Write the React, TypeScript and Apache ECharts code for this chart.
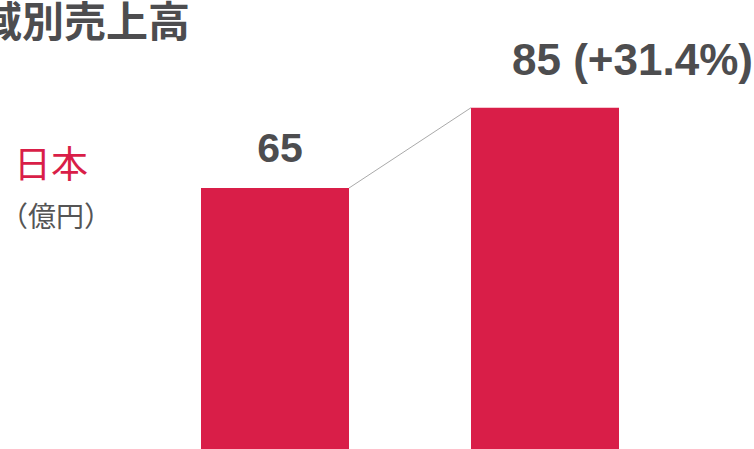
import React, { useEffect, useRef } from "react";
import * as echarts from "echarts";

const categories = ["前年", "当年"];
const values = [65, 85];
const growthLabel = "(+31.4%)";
const titleText = "地域別売上高";
const regionText = "日本";
const unitText = "（億円）";

const RED = "#d91e48";
const GRAY = "#4d4d4f";

export default function App() {
  const ref = useRef<HTMLDivElement>(null);
  useEffect(() => {
    if (!ref.current) return;
    const chart = echarts.init(ref.current, undefined, { renderer: "svg" });
    const barWidth = 148;
    chart.setOption({
      animation: false,
      backgroundColor: "#ffffff",
      grid: { left: 140, right: 74, top: 47.5, bottom: 0 },
      xAxis: {
        type: "category",
        data: categories,
        show: false,
      },
      yAxis: { type: "value", min: 0, max: 100, show: false },
      graphic: [
        {
          type: "text",
          right: 564,
          top: -3,
          style: {
            text: titleText,
            fontSize: 42,
            fontWeight: "bold",
            fontFamily: "'Noto Sans CJK JP', sans-serif",
            fill: GRAY,
          },
        },
        {
          type: "text",
          left: 14,
          top: 143,
          style: {
            text: regionText,
            fontSize: 37,
            fontFamily: "'Noto Sans CJK JP', sans-serif",
            fill: RED,
          },
        },
        {
          type: "text",
          left: 0,
          top: 201,
          style: {
            text: unitText,
            fontSize: 28,
            fontFamily: "'Noto Sans CJK JP', sans-serif",
            fill: "#555555",
          },
        },
      ],
      series: [
        {
          type: "bar",
          barWidth,
          data: [
            {
              value: values[0],
              label: {
                show: true,
                position: "top",
                distance: 20,
                offset: [5, 0],
                formatter: "{c}",
                fontSize: 41,
                fontWeight: "bold",
                fontFamily: "'Liberation Sans', Arial, sans-serif",
                color: GRAY,
              },
            },
            {
              value: values[1],
              label: {
                show: true,
                position: "top",
                distance: 26,
                align: "left",
                offset: [-33, 0],
                formatter: (p: any) => `${p.value} ${growthLabel}`,
                fontSize: 44,
                fontWeight: "bold",
                fontFamily: "'Liberation Sans', Arial, sans-serif",
                color: GRAY,
              },
            },
          ],
          itemStyle: { color: RED },
        },
        {
          type: "custom",
          data: [[0, values[0], 1, values[1]]],
          renderItem: (params: any, api: any) => {
            const p1 = api.coord([api.value(0), api.value(1)]);
            const p2 = api.coord([api.value(2), api.value(3)]);
            return {
              type: "line",
              shape: {
                x1: p1[0] + barWidth / 2,
                y1: p1[1],
                x2: p2[0] - barWidth / 2,
                y2: p2[1],
              },
              style: { stroke: "#aaaaaa", lineWidth: 1 },
            };
          },
          z: 5,
        },
      ],
    });
    return () => chart.dispose();
  }, []);
  return (
    <div
      ref={ref}
      style={{ position: "fixed", left: 0, top: 0, width: 754, height: 449 }}
    />
  );
}
